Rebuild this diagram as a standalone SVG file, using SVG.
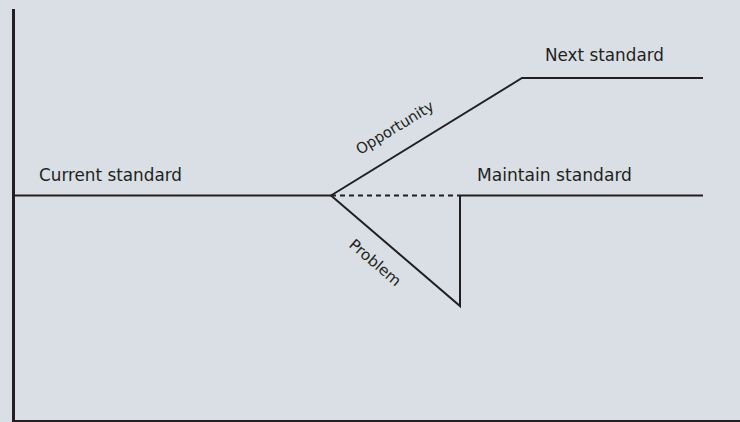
<svg xmlns="http://www.w3.org/2000/svg" width="740" height="422" viewBox="0 0 740 422">
<style>
.ln{stroke:#231f20;stroke-width:2;fill:none}
.t{font-family:"Liberation Sans Narrow","DejaVu Sans Condensed","Liberation Sans",sans-serif;fill:#231f20}
.lab{font-size:17.5px}
.sm{font-size:15px}
</style>
<rect width="740" height="422" fill="#d9dfe5"/>
<g id="axes">
<line x1="13.5" y1="9" x2="13.5" y2="422" stroke="#231f20" stroke-width="3"/>
<line x1="12" y1="421" x2="740" y2="421" class="ln"/>
</g>
<g id="connectors">
<line x1="13" y1="195.5" x2="331" y2="195.5" class="ln"/>
<polyline points="331,195.5 522,78 703,78" class="ln"/>
<line x1="331" y1="195.5" x2="460" y2="195.5" class="ln" stroke-dasharray="5,4"/>
<line x1="460" y1="195.5" x2="703" y2="195.5" class="ln"/>
<polyline points="331,195.5 460,306 460,195.5" class="ln"/>
</g>
<g id="current"><text class="t lab" x="39" y="180.5" textLength="143" lengthAdjust="spacingAndGlyphs">Current standard</text></g>
<g id="next"><text class="t lab" x="545" y="60.5" textLength="119" lengthAdjust="spacingAndGlyphs">Next standard</text></g>
<g id="maintain"><text class="t lab" x="477" y="180.5" textLength="155" lengthAdjust="spacingAndGlyphs">Maintain standard</text></g>
<g id="opportunity"><text class="t sm" transform="translate(360,155) rotate(-31.5)" textLength="88" lengthAdjust="spacingAndGlyphs">Opportunity</text></g>
<g id="problem"><text class="t sm" transform="translate(348,246) rotate(40.7)" textLength="63" lengthAdjust="spacingAndGlyphs">Problem</text></g>
</svg>
